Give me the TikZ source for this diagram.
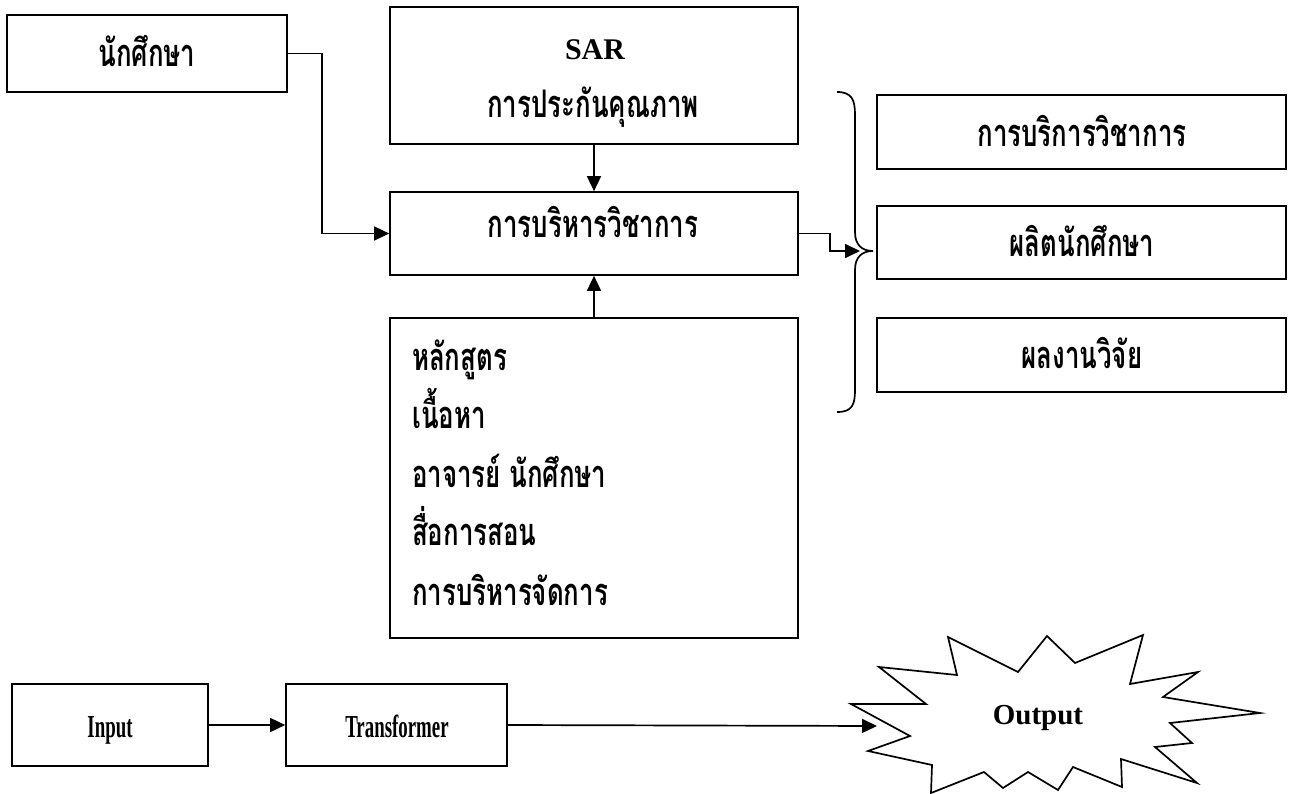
\documentclass[tikz,border=0pt]{standalone}
\usepackage{fontspec}
\setmainfont{Liberation Serif}
\newfontfamily\latc{Liberation Serif}[FakeStretch=0.59]
\newfontfamily\thai[Script=Thai,FakeStretch=0.68]{Loma}
\usetikzlibrary{arrows.meta}
\begin{document}
\begin{tikzpicture}[x=1pt,y=-1pt,
  box/.style={draw,line width=1.7pt,inner sep=0pt},
  lat/.style={anchor=base,inner sep=0pt,font=\fontsize{30}{30}\selectfont\bfseries},
  latc/.style={anchor=base,inner sep=0pt,font=\latc\fontsize{32}{32}\selectfont\bfseries},
  th/.style={anchor=base,inner sep=0pt,font=\thai\fontsize{38}{38}\selectfont\bfseries},
  conn/.style={line width=1.7pt,-{Triangle[length=15pt,width=14pt]}},
  line/.style={line width=1.7pt,line join=miter}]
\useasboundingbox (0,0) rectangle (1298,794);
% boxes
\node[box,minimum width=280pt,minimum height=77pt] (stu) at (147,53.5) {};
\node[box,minimum width=408pt,minimum height=137pt] (sar) at (594,75.5) {};
\node[box,minimum width=408pt,minimum height=83pt] (adm) at (594,233.5) {};
\node[box,minimum width=408pt,minimum height=320pt] (res) at (594,478) {};
\node[box,minimum width=409pt,minimum height=74pt] (o1) at (1081.5,132) {};
\node[box,minimum width=409pt,minimum height=73pt] (o2) at (1081.5,242.5) {};
\node[box,minimum width=409pt,minimum height=74pt] (o3) at (1081.5,355) {};
\node[box,minimum width=196pt,minimum height=82pt] (inp) at (110,725) {};
\node[box,minimum width=221pt,minimum height=82pt] (trf) at (396.5,725) {};
% texts
\node[th] (tstu) at (147,67) {นักศึกษา};
\node[lat] (tsar) at (595,60) {SAR};
\node[th] (tqa) at (593,118) {การประกันคุณภาพ};
\node[th] (tadm) at (593,238) {การบริหารวิชาการ};
\node[th,anchor=base west] (r1) at (412,370) {หลักสูตร};
\node[th,anchor=base west] (r2) at (412,428) {เนื้อหา};
\node[th,anchor=base west] (r3) at (412,487) {อาจารย์ นักศึกษา};
\node[th,anchor=base west] (r4) at (412,545) {สื่อการสอน};
\node[th,anchor=base west] (r5) at (412,605) {การบริหารจัดการ};
\node[th] (to1) at (1082,147) {การบริการวิชาการ};
\node[th] (to2) at (1082,257) {ผลิตนักศึกษา};
\node[th] (to3) at (1082,368) {ผลงานวิจัย};
\node[latc] (tinp) at (110,737) {Input};
\node[latc] (ttrf) at (397,737) {Transformer};
% star
\draw[line] (948,637) -- (957,675) -- (879,667) -- (926,704) -- (851,704) -- (910,736) -- (868,751) -- (932,765) -- (931,793) -- (984,772) -- (1003,788) -- (1028,772) -- (1058,790) -- (1073,767) -- (1122,787) -- (1121,759) -- (1197,783) -- (1155,747) -- (1192,743) -- (1170,723) -- (1260,713) -- (1163,697) -- (1198,672) -- (1130,684) -- (1143,635) -- (1075,663) -- (1047,636) -- (1018,672) -- cycle;
\node[lat,font=\fontsize{29}{29}\selectfont\bfseries] (tout) at (1038,724) {Output};
\coordinate (sin) at (877,726);
% brace
\coordinate (bt) at (873,251);
\coordinate (bin) at (860,251);
\draw[line] (837,92) .. controls (852,92) and (855,100) .. (855,115) -- (855,232) .. controls (855,245) and (862,251) .. (bt) .. controls (862,251) and (855,257) .. (855,270) -- (855,390) .. controls (855,405) and (852,412) .. (837,412);
% connectors
\draw[conn] (stu.east) -- ++(34,0) |- (adm.west);
\draw[conn] (sar.south) -- (adm.north);
\draw[conn] (res.north) -- (adm.south);
\draw[conn] (adm.east) -- ++(31,0) |- (bin);
\draw[conn] (inp.east) -- (trf.west);
\draw[conn] (trf.east) -- (sin);
\end{tikzpicture}
\end{document}
